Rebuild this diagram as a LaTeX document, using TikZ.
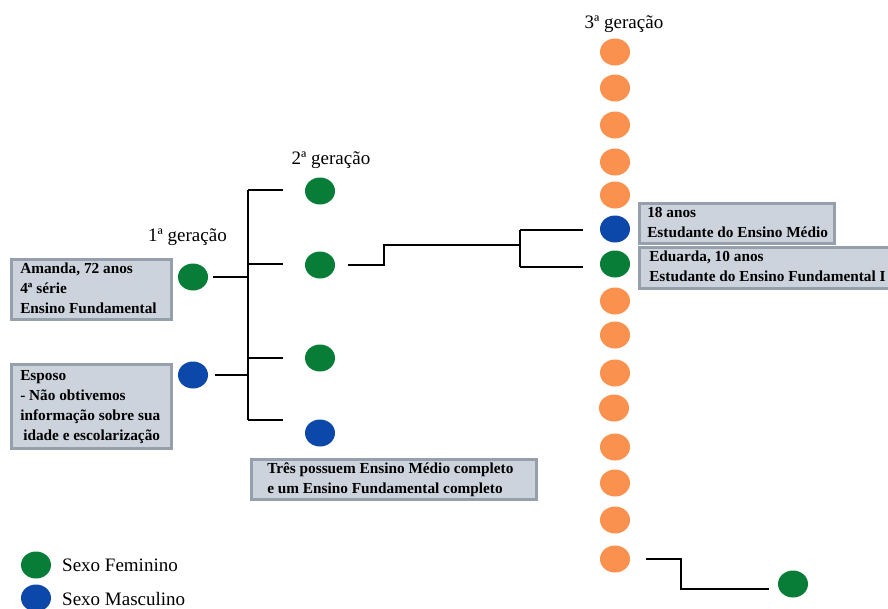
\documentclass[tikz,border=0pt]{standalone}
\usepackage{fontspec}
\setmainfont{Liberation Serif}
\usetikzlibrary{shapes.geometric}
\definecolor{femc}{RGB}{8,125,55}
\definecolor{masc}{RGB}{12,72,170}
\definecolor{orac}{RGB}{250,145,78}
\definecolor{boxfill}{RGB}{204,211,221}
\definecolor{boxline}{RGB}{150,160,172}
\newcommand{\infolines}[2]{\makebox[#1][l]{\begin{tabular}{@{}l@{}}#2\end{tabular}}}
\begin{document}
\begin{tikzpicture}[x=1pt,y=-1pt,
  person/.style={ellipse, minimum width=30pt, minimum height=27pt, inner sep=0pt},
  female/.style={person, fill=femc},
  male/.style={person, fill=masc},
  grandchild/.style={person, fill=orac},
  infobox/.style={draw=boxline, line width=2.5pt, fill=boxfill, anchor=north west,
    inner ysep=0pt, font=\fontsize{15.3}{20}\selectfont\bfseries},
  genlabel/.style={font=\fontsize{19}{22}\selectfont, inner sep=0pt},
  legendtext/.style={font=\fontsize{19}{22}\selectfont, inner sep=0pt, anchor=west},
  link/.style={line width=1.4pt, black}
]
\useasboundingbox (0,0) rectangle (888,608);

% generation labels
\node[genlabel] (lab1) at (187.5,237) {1ª geração};
\node[genlabel] (lab2) at (331,160) {2ª geração};
\node[genlabel] (lab3) at (624,24) {3ª geração};

% 1st generation
\node[female] (amanda) at (193,277) {};
\node[male] (esposo) at (193,375) {};

% 2nd generation
\node[female] (g2a) at (320,191) {};
\node[female] (g2b) at (320,265) {};
\node[female] (g2c) at (320,358) {};
\node[male] (g2d) at (320,433) {};

% 3rd generation
\node[grandchild] (o1) at (615,52) {};
\node[grandchild] (o2) at (615,88) {};
\node[grandchild] (o3) at (615,125) {};
\node[grandchild] (o4) at (615,162) {};
\node[grandchild] (o5) at (615,195) {};
\node[male] (g3m) at (615,229) {};
\node[female] (g3f) at (615,264) {};
\node[grandchild] (o6) at (615,301) {};
\node[grandchild] (o7) at (615,335) {};
\node[grandchild] (o8) at (615,373) {};
\node[grandchild] (o9) at (614,408) {};
\node[grandchild] (o10) at (615,447) {};
\node[grandchild] (o11) at (615,483) {};
\node[grandchild] (o12) at (615,520) {};
\node[grandchild] (o13) at (615,559) {};

% 4th
\node[female] (g4) at (793,584) {};

% info boxes
\node[infobox, inner xsep=9pt, minimum height=60pt] (amandabox) at (10,258)
  {\infolines{142pt}{Amanda, 72 anos\\4ª série\\Ensino Fundamental}};
\node[infobox, inner xsep=9pt, minimum height=84pt] (esposobox) at (10,363)
  {\infolines{142pt}{Esposo\\- Não obtivemos\\informação sobre sua\\\hspace*{3pt}idade e escolarização}};
\node[infobox, inner xsep=16pt, minimum height=37pt] (gen2box) at (250,458)
  {\infolines{253pt}{Três possuem Ensino Médio completo\\e um Ensino Fundamental completo}};
\node[infobox, inner xsep=8pt, minimum height=38pt] (boybox) at (638,202)
  {\infolines{179pt}{18 anos\\Estudante do Ensino Médio}};
\node[infobox, inner xsep=10pt, minimum height=41pt] (girlbox) at (638,246)
  {\infolines{245pt}{Eduarda, 10 anos\\Estudante do Ensino Fundamental I}};

% connectors gen1 -> gen2
\coordinate (tTop) at (248,190);
\coordinate (tBot) at (248,420);
\coordinate (bA) at (283,190);
\coordinate (bB) at (283,264);
\coordinate (bC) at (283,358);
\coordinate (bD) at (283,420);
\draw[link] (tTop) -- (tBot);
\draw[link] ([xshift=5pt]amanda.east) -- (amanda.east -| tTop);
\draw[link] ([xshift=7pt]esposo.east) -- (esposo.east -| tTop);
\draw[link] (tTop) -- (bA);
\draw[link] (bB -| tTop) -- (bB);
\draw[link] (bC -| tTop) -- (bC);
\draw[link] (tBot) -- (bD);

% connectors gen2 -> gen3
\coordinate (s1) at (384,245);
\coordinate (uTop) at (520,230);
\coordinate (uBot) at (520,267);
\coordinate (eA) at (583,230);
\coordinate (eB) at (583,267);
\draw[link] ([xshift=13pt]g2b.east) -| (s1) -- (s1 -| uTop);
\draw[link] (uTop) -- (uBot);
\draw[link] (uTop) -- (eA);
\draw[link] (uBot) -- (eB);

% connector gen3 -> gen4
\coordinate (k1) at (681,589);
\coordinate (k2) at (769,589);
\draw[link] ([xshift=16pt]o13.east) -| (k1) -- (k2);

% legend
\node[female] (legf) at (36,565) {};
\node[male] (legm) at (36,598) {};
\node[legendtext] (legftext) at (62,565) {Sexo Feminino};
\node[legendtext] (legmtext) at (62,599) {Sexo Masculino};
\end{tikzpicture}
\end{document}
